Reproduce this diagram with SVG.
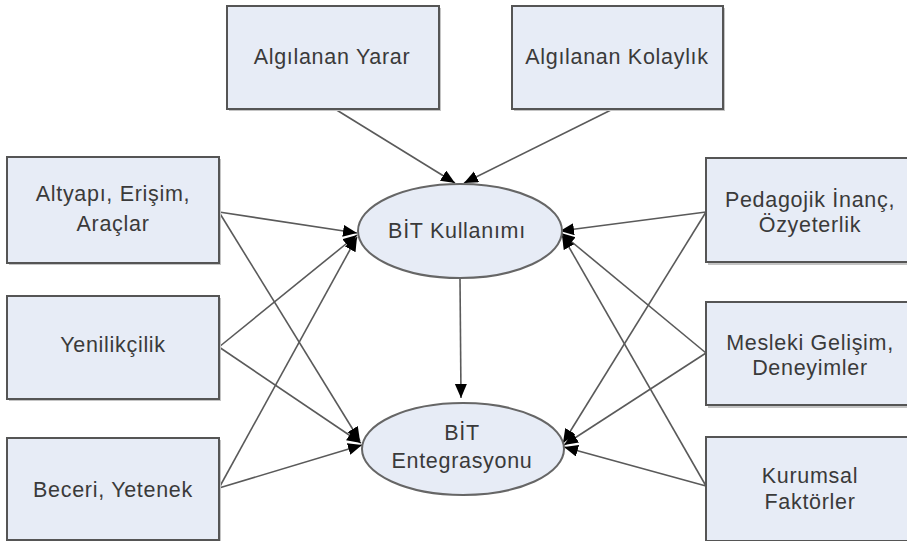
<svg xmlns="http://www.w3.org/2000/svg" width="907" height="541" viewBox="0 0 907 541">
<defs>
<style>
.box{fill:#e7ecf6;stroke:#555;stroke-width:2}
.shadow{fill:#c4c4c4}
.ell{fill:#e7ecf6;stroke:#666;stroke-width:2}
.t{font-family:"Liberation Sans",Arial,sans-serif;font-size:21.5px;letter-spacing:0.7px;fill:#3a3a3a;text-anchor:middle}
.c{stroke:#5a5a5a;stroke-width:1.6;fill:none;marker-end:url(#ah)}
</style>
<marker id="ah" markerUnits="userSpaceOnUse" markerWidth="16" markerHeight="14" refX="14" refY="6" orient="auto">
<path d="M0,0 L14,6 L0,12 z" fill="#000"/>
</marker>
</defs>
<rect width="907" height="541" fill="#fff"/>
<g id="connectors">
<line class="c" x1="335" y1="109" x2="455" y2="183"/>
<line class="c" x1="613" y1="109" x2="464" y2="183"/>
<line class="c" x1="219" y1="212" x2="357" y2="233"/>
<line class="c" x1="219" y1="212" x2="360" y2="441"/>
<line class="c" x1="219" y1="347" x2="357" y2="235"/>
<line class="c" x1="219" y1="347" x2="361" y2="443"/>
<line class="c" x1="219" y1="488" x2="357" y2="237"/>
<line class="c" x1="219" y1="488" x2="362" y2="445"/>
<line class="c" x1="706" y1="212" x2="560" y2="231"/>
<line class="c" x1="706" y1="212" x2="563" y2="443"/>
<line class="c" x1="706" y1="353" x2="561" y2="233"/>
<line class="c" x1="706" y1="353" x2="564" y2="445"/>
<line class="c" x1="706" y1="486" x2="562" y2="235"/>
<line class="c" x1="706" y1="486" x2="564" y2="447"/>
<line class="c" x1="460" y1="278" x2="461" y2="398"/>
</g>
<g id="n-yarar">
<rect class="shadow" x="229" y="8" width="212" height="103"/>
<rect class="box" x="227" y="6" width="212" height="103"/>
<text class="t" x="332" y="64">Algılanan Yarar</text>
</g>
<g id="n-kolaylik">
<rect class="shadow" x="514" y="8" width="211" height="103"/>
<rect class="box" x="512" y="6" width="211" height="103"/>
<text class="t" x="617" y="64">Algılanan Kolaylık</text>
</g>
<g id="n-altyapi">
<rect class="shadow" x="9" y="159" width="212" height="106"/>
<rect class="box" x="7" y="157" width="212" height="106"/>
<text class="t" x="113" y="201">Altyapı, Erişim,</text>
<text class="t" x="113" y="231">Araçlar</text>
</g>
<g id="n-yenilikcilik">
<rect class="shadow" x="9" y="298" width="212" height="103"/>
<rect class="box" x="7" y="296" width="212" height="103"/>
<text class="t" x="113" y="352">Yenilikçilik</text>
</g>
<g id="n-beceri">
<rect class="shadow" x="9" y="440" width="212" height="103"/>
<rect class="box" x="7" y="438" width="212" height="102"/>
<text class="t" x="113" y="497">Beceri, Yetenek</text>
</g>
<g id="n-pedagojik">
<rect class="shadow" x="708" y="160" width="210" height="105"/>
<rect class="box" x="706" y="158" width="210" height="104"/>
<text class="t" x="810" y="207">Pedagojik İnanç,</text>
<text class="t" x="810" y="232">Özyeterlik</text>
</g>
<g id="n-mesleki">
<rect class="shadow" x="708" y="304" width="210" height="104"/>
<rect class="box" x="706" y="302" width="210" height="103"/>
<text class="t" x="810" y="350">Mesleki Gelişim,</text>
<text class="t" x="810" y="375">Deneyimler</text>
</g>
<g id="n-kurumsal">
<rect class="shadow" x="708" y="439" width="210" height="104"/>
<rect class="box" x="706" y="437" width="210" height="104"/>
<text class="t" x="810" y="483">Kurumsal</text>
<text class="t" x="810" y="509">Faktörler</text>
</g>
<g id="n-kullanimi">
<ellipse class="ell" cx="460" cy="231" rx="102" ry="47"/>
<text class="t" x="457" y="238">BİT Kullanımı</text>
</g>
<g id="n-entegrasyonu">
<ellipse class="ell" cx="463" cy="449" rx="101" ry="46"/>
<text class="t" x="462" y="440">BİT</text>
<text class="t" x="462" y="468">Entegrasyonu</text>
</g>
</svg>
